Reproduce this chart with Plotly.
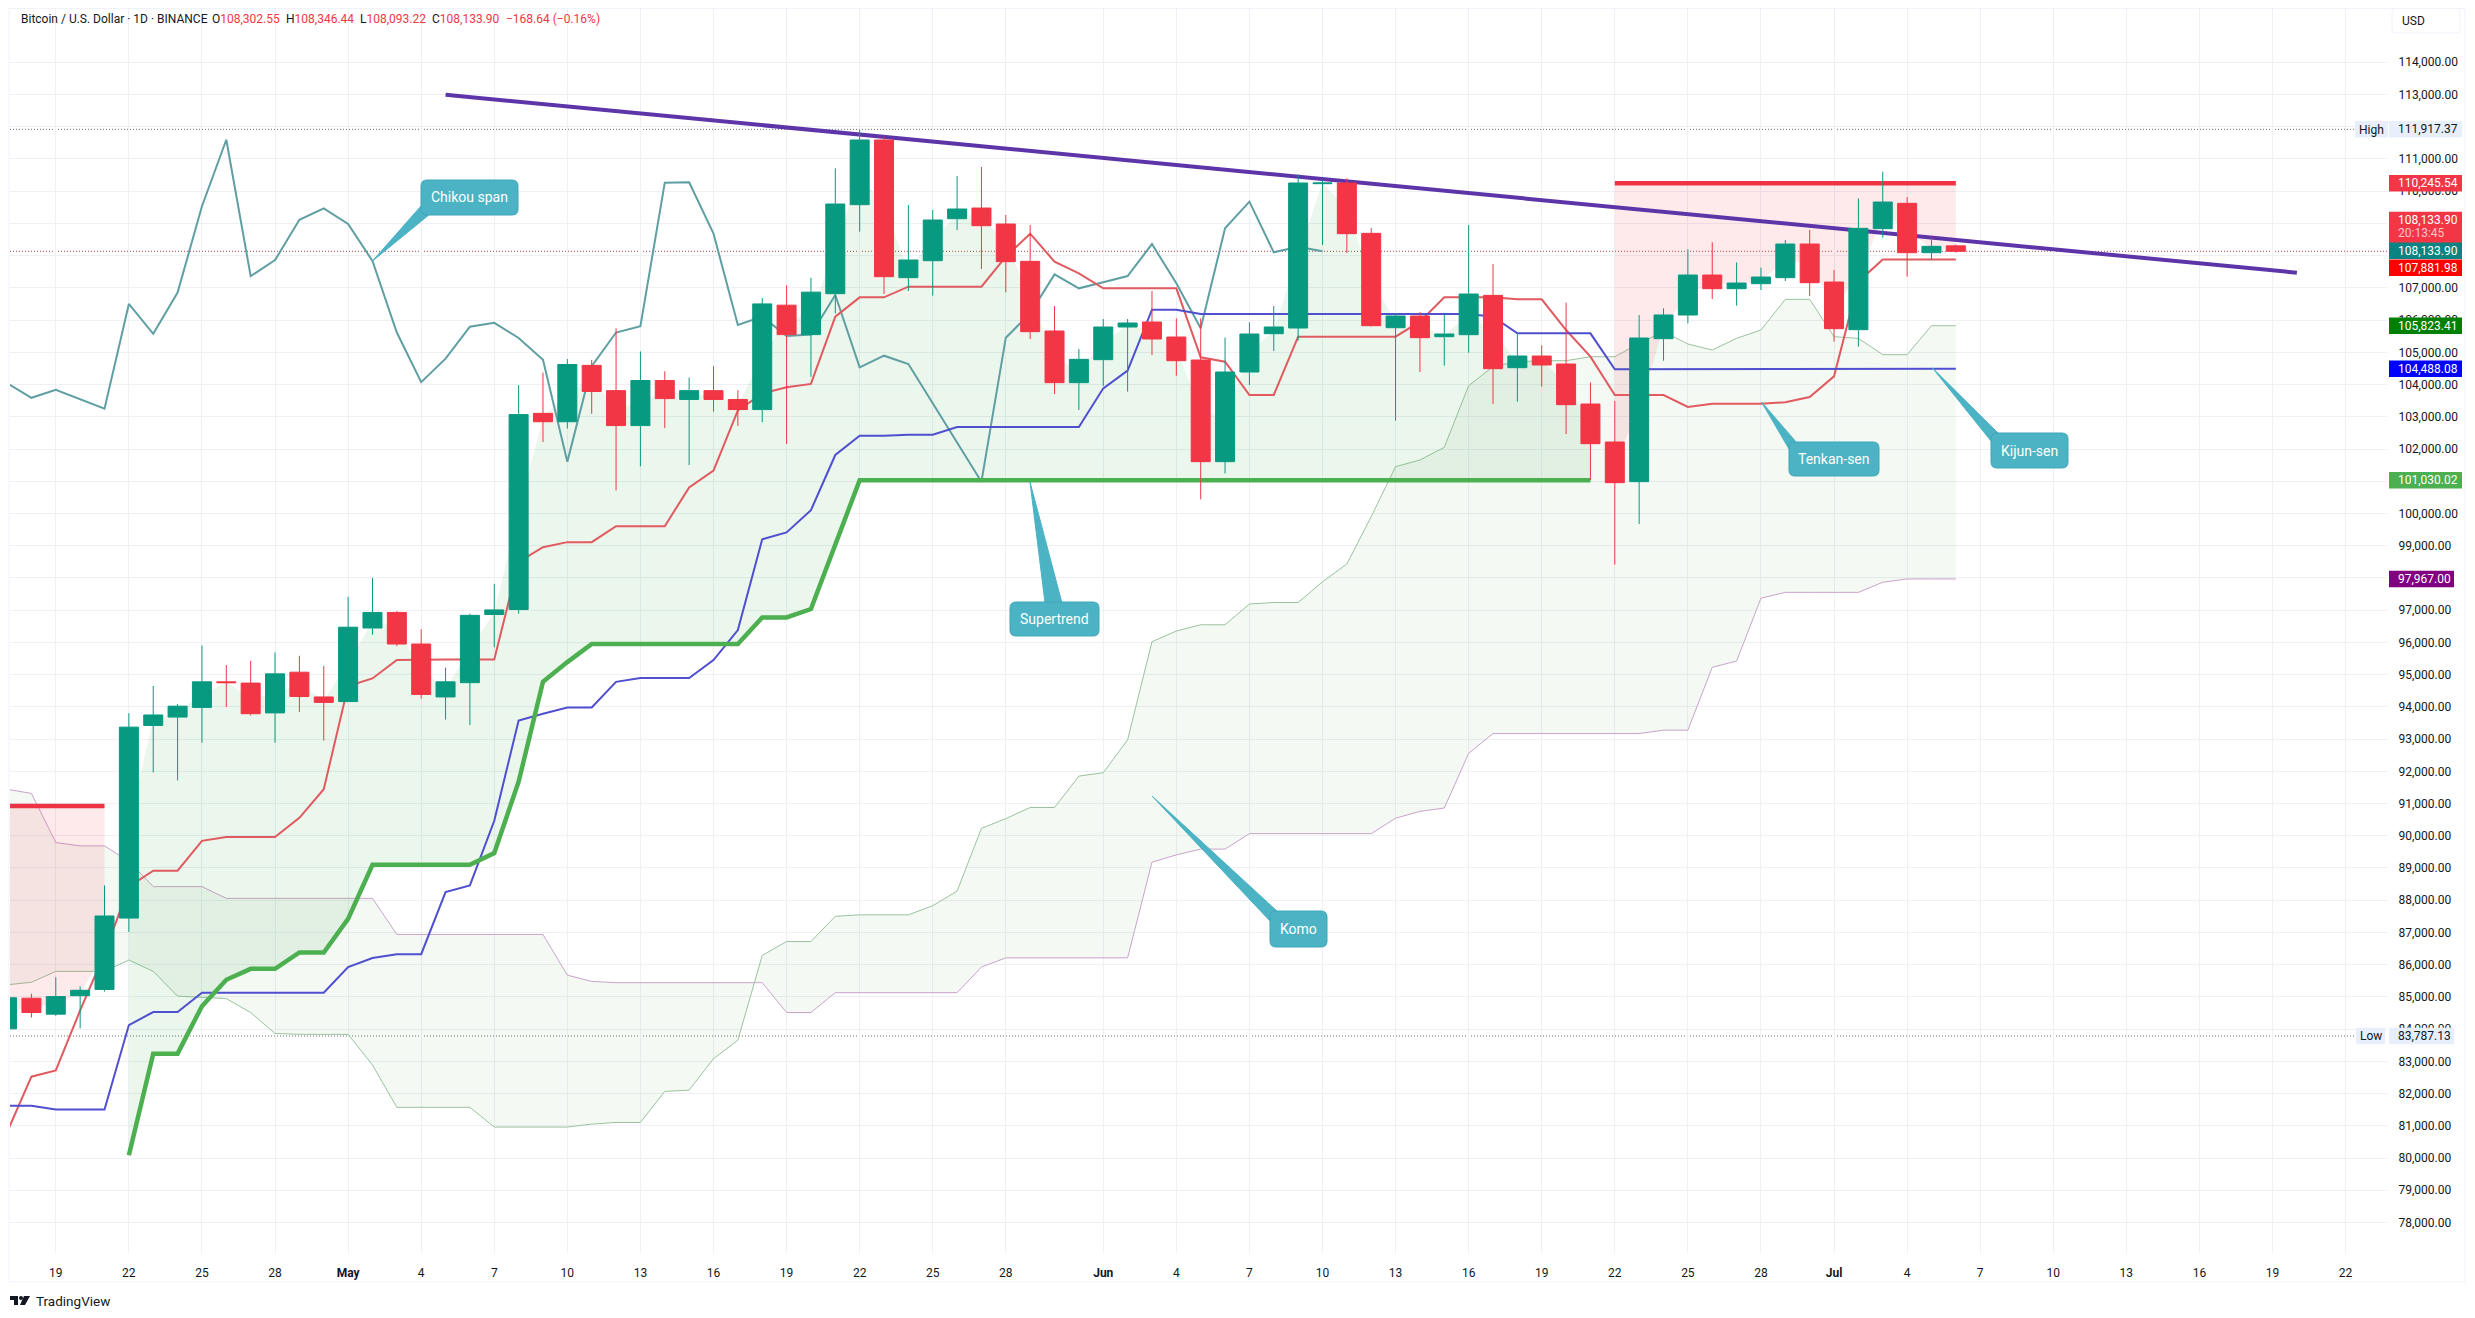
import pandas as pd
import plotly.graph_objects as go

# daily candles, 17 Apr - 6 Jul 2025
dates = pd.date_range("2025-04-17", "2025-07-06", freq="D")

opens = [84008, 84959, 84464, 85037, 85232, 87446, 93422, 93682, 93982, 94776, 94737, 93812, 95075, 94307,
         94164, 96446, 96929, 95949, 94307, 94750, 96864, 97020, 103106, 102845, 104595, 103811, 102727, 104125, 103537, 103811,
         103537, 103224, 106463, 105549, 106819, 109581, 111587, 107316, 107843, 109146, 109477, 108981, 107823, 105661, 104058,
         104772, 105785, 105940, 105475, 104761, 101607, 104389, 105578, 105754, 110232, 110253, 108691, 105764, 106126, 105485,
         105547, 106767, 104523, 104885, 104637, 103396, 102217, 100987, 105423, 106158, 107398, 106974, 107129, 107316, 108360,
         107181, 105702, 108836, 109622, 108091, 108302.55]
highs = [85100, 85100, 85610, 85324, 88461, 93800, 94646, 94086, 95900, 95297, 95427, 95688, 95584, 95271,
         97412, 98000, 96968, 96407, 95219, 96890, 97817, 103981, 104373, 104791, 104765, 105744, 105026, 104412, 104216, 104569,
         103824, 106685, 107076, 107312, 110708, 111917.37, 111690, 109570, 109415, 110470, 110749, 109260, 108950, 106437, 105102,
         106033, 106033, 106902, 106054, 106054, 105454, 105930, 106437, 110522, 110346, 110398, 108857, 106209, 106250, 106178,
         108950, 107740, 105589, 105216, 106540, 104068, 103489, 106158, 106364, 108195, 108412, 107792, 107626, 108484, 108795,
         107553, 109777, 110604, 109818, 108557, 108346.44]
lows = [83900, 84360, 84412, 84022, 85167, 87016, 91964, 91716, 92888, 93995, 93734, 92888, 93838, 92953,
        94150, 96237, 95884, 94255, 93604, 93435, 95845, 96890, 102218, 102636, 103093, 100716, 101460, 102649, 101500, 103159,
        102715, 102832, 102153, 104242, 106209, 108743, 106809, 106902, 106757, 108795, 107585, 106861, 105413, 103706, 103210,
        103955, 103779, 104916, 104275, 100438, 101245, 103986, 105040, 105361, 108329, 108081, 105800, 102879, 104389, 104585,
        104989, 103396, 103468, 103934, 102465, 101038, 98411, 99673, 104740, 105899, 106654, 106447, 106933, 107212, 106747,
        105330, 105175, 108557, 107347, 107864, 108093.22]
closes = [84972, 84516, 85011, 85206, 87511, 93370, 93747, 94021, 94776, 94750, 93786, 95023, 94320, 94138,
          96471, 96929, 95949, 94385, 94776, 96838, 97007, 103067, 102845, 104621, 103785, 102727, 104125, 103563, 103811, 103537,
          103224, 106502, 105549, 106867, 109601, 111587, 107347, 107864, 109105, 109446, 108929, 107812, 105640, 104058, 104782,
          105785, 105909, 105413, 104740, 101607, 104389, 105568, 105785, 110253, 110253, 108681, 105826, 106126, 105454, 105568,
          106809, 104492, 104885, 104606, 103375, 102165, 100955, 105444, 106158, 107398, 106974, 107150, 107336, 108360, 107160,
          105733, 108846, 109663, 108091, 108288, 108133.90]

tenkan = [80806, 82524, 82720, 84581, 86339, 88422, 88917, 88917, 89841, 89959, 89959, 89959, 90557, 91443,
          94646, 94880, 95453, 95470, 95470, 95470, 95470, 98496, 98953, 99110, 99110, 99606, 99606, 99606, 100807, 101330,
          103197, 103720, 103916, 104020, 106106, 106705, 106705, 107037, 107037, 107037, 107037, 107967, 108681, 107812, 107450,
          106985, 106985, 106985, 106985, 104844, 104709, 103675, 103675, 105485, 105485, 105485, 105485, 105485, 105951, 106705,
          106705, 106705, 106643, 106643, 105692, 104864, 103675, 103675, 103675, 103303, 103407, 103407, 103407, 103448, 103613,
          104254, 107192, 107881.98, 107881.98, 107881.98, 107881.98]
kijun = [81626, 81626, 81509, 81509, 81509, 84126, 84529, 84529, 85128, 85128, 85128, 85128, 85128, 85128,
         85923, 86209, 86326, 86326, 88253, 88461, 90466, 93578, 93786, 93982, 93982, 94776, 94893, 94893, 94893, 95453,
         96380, 99201, 99410, 100102, 101814, 102414, 102414, 102445, 102445, 102683, 102683, 102683, 102683, 102683, 102683,
         103882, 104430, 106323, 106323] + [106188] * 12 + [106106, 105589, 105589, 105589, 105589] + [104472] * 9 + [
         104472, 104472, 104488.08, 104488.08, 104488.08, 104488.08]
span_a = [85376, 85454, 85792, 85792, 85792, 86144, 85792, 85024, 84985, 84946, 84516, 83865, 83839, 83839,
          83839, 82889, 81574, 81574, 81574, 81574, 80962, 80962, 80962, 80962, 81053, 81105, 81105, 82068, 82108, 83084,
          83657, 86287, 86717, 86717, 87501, 87546, 87546, 87546, 87831, 88281, 90231, 90531, 90876, 90876, 91851,
          91956, 92976, 96021, 96351, 96546, 96546, 97191, 97236, 97236, 97881, 98432, 99900, 101452, 101659, 102052,
          103965, 104555, 104710, 104740, 104740, 104864, 104864, 105278, 105640, 105258, 105071, 105433, 105692, 106643, 106643,
          105485, 105433, 104927, 104927, 105826, 105823.41]
span_b = [91443, 91313, 89789, 89685, 89685, 89203, 88422, 88422, 88422, 88057, 88057, 88057, 88057, 88057,
          88057, 88057] + [86938] * 7 + [85675, 85480] + [85441] * 7 + [84516, 84516] + [85131] * 6 + [85926] + [86211] * 4 + [
          86211, 86211, 89181, 89406, 89586, 89586] + [90066] * 6 + [90546, 90756, 90861, 92556] + [93171] * 7 + [
          93276, 93276, 95226, 95421, 97371, 97551, 97551, 97551, 97551, 97866, 97967, 97967, 97967]
chikou = [104047, 103589, 103838, 103550, 103250, 106502, 105574, 106854, 109532, 111595, 107364, 107860, 109114, 109466,
          108983, 107834, 105614, 104073, 104804, 105796, 105914, 105444, 104765, 101604, 104569, 105614, 105809, 110263, 110276, 108683,
          105849, 106110, 105509, 105549, 106778, 104534, 104895, 104637, 103417, 102175, 100986, 105454, 106209, 107419, 106985,
          107171, 107367, 108360, 107140, 105744, 108846, 109674, 108102, 108277, 108133.90] + [None] * 26
super_up = [None] * 5 + [80089, 83240, 83240, 84712, 85532, 85870, 85870, 86378, 86378,
            87420, 89099, 89099, 89099, 89099, 89099, 89464, 91677, 94776, 95388] + [95949] * 7 + [
            96772, 96772, 97033, 99000] + [101030.02] * 31 + [None] * 15
super_down = [90922] * 5 + [None] * 61 + [110245.54] * 15

trend_dates = ["2025-05-05", "2025-07-20"]
trend_prices = [112993, 107470]

price_ticks = list(range(78000, 115000, 1000))
# 108,000 sits fully behind the last-price tags on the chart
price_labels = ["" if p == 108000 else f"{p:,.2f}" for p in price_ticks]
time_ticks = ["2025-04-19", "2025-04-22", "2025-04-25", "2025-04-28", "2025-05-01", "2025-05-04", "2025-05-07",
              "2025-05-10", "2025-05-13", "2025-05-16", "2025-05-19", "2025-05-22", "2025-05-25", "2025-05-28",
              "2025-06-01", "2025-06-04", "2025-06-07", "2025-06-10", "2025-06-13", "2025-06-16", "2025-06-19",
              "2025-06-22", "2025-06-25", "2025-06-28", "2025-07-01", "2025-07-04", "2025-07-07", "2025-07-10",
              "2025-07-13", "2025-07-16", "2025-07-19", "2025-07-22"]
time_labels = ["19", "22", "25", "28", "<b>May</b>", "4", "7", "10", "13", "16", "19", "22", "25", "28", "<b>Jun</b>",
               "4", "7", "10", "13", "16", "19", "22", "25", "28", "<b>Jul</b>", "4", "7", "10", "13", "16", "19", "22"]

# all positions below are page pixels; the page body adds an 8px margin around the figure
BODY = 8
W, H = 2459, 1302
LEFT, RIGHT, TOP, BOTTOM = 10, 2387, 8, 1253
Y_RANGE = [77054, 115683]
FONT = "Roboto"
DARK = "#131722"
UP = "#089981"
DOWN = "#f23645"
CALLOUT = "#4bb3c4"
TAG_PALE = "#e6effb"


def px(x):
    return (x - LEFT) / (RIGHT - LEFT)


def py(y):
    return (BOTTOM - y) / (BOTTOM - TOP)


def segments(vals):
    # index ranges where a series with gaps has values
    out, start = [], None
    for i, v in enumerate(list(vals) + [None]):
        if v is not None and start is None:
            start = i
        if v is None and start is not None:
            out.append((start, i))
            start = None
    return out


fig = go.Figure()

# cloud
fig.add_trace(go.Scatter(x=dates, y=span_b, mode="lines", line=dict(color="#c9a3c9", width=1)))
fig.add_trace(go.Scatter(x=dates, y=span_a, mode="lines", line=dict(color="#9cc29f", width=1),
                         fill="tonexty", fillcolor="rgba(67,160,71,0.06)"))

# supertrend fill runs from the line to the middle of the candle body
body_mid = [(o + c) / 2 for o, c in zip(opens, closes)]
for vals, color in [(super_up, "rgba(76,175,80,0.11)"), (super_down, "rgba(242,54,69,0.11)")]:
    for a, b in segments(vals):
        fig.add_trace(go.Scatter(x=dates[a:b], y=body_mid[a:b], mode="lines", line=dict(width=0)))
        fig.add_trace(go.Scatter(x=dates[a:b], y=vals[a:b], mode="lines", line=dict(width=0),
                                 fill="tonexty", fillcolor=color))

fig.add_trace(go.Scatter(x=trend_dates, y=trend_prices, mode="lines", line=dict(color="#5e35a8", width=4)))
fig.add_trace(go.Scatter(x=dates, y=chikou, mode="lines", line=dict(color="#5f9fa3", width=2)))
fig.add_trace(go.Scatter(x=dates, y=tenkan, mode="lines", line=dict(color="#e05a5f", width=2)))
fig.add_trace(go.Scatter(x=dates, y=kijun, mode="lines", line=dict(color="#4f4fcf", width=2)))
fig.add_trace(go.Scatter(x=dates, y=super_up, mode="lines", line=dict(color="#4caf50", width=4.5)))
fig.add_trace(go.Scatter(x=dates, y=super_down, mode="lines", line=dict(color="#ee3344", width=4.5)))

# candles on an overlaid axis so they are painted over the lines
fig.add_trace(go.Candlestick(
    x=dates, open=opens, high=highs, low=lows, close=closes, whiskerwidth=0, yaxis="y2",
    increasing=dict(line=dict(color=UP, width=1), fillcolor=UP),
    decreasing=dict(line=dict(color=DOWN, width=1), fillcolor=DOWN),
))

# dotted price lines
for price, end, color in [(111917.37, 2354, "#6a6d78"), (83787.13, 2354, "#6a6d78"), (108133.90, RIGHT, "#a8474f")]:
    fig.add_shape(type="line", xref="paper", yref="y", x0=0, x1=px(end), y0=price, y1=price, layer="below",
                  line=dict(color=color, width=1, dash="1px,2px"))

annotations = []


def text_at(x, y, text, size=12, color=DARK, anchor="left"):
    annotations.append(dict(xref="paper", yref="paper", x=px(x), y=py(y), text=text, showarrow=False, xanchor=anchor,
                            yanchor="middle", font=dict(family=FONT, size=size, color=color)))


def tag_box(price, x0, x1, bg, height=16.5):
    fig.add_shape(type="rect", xref="paper", yref="y", ysizemode="pixel", yanchor=price, x0=px(x0), x1=px(x1),
                  y0=-height / 2, y1=height / 2, fillcolor=bg, line=dict(width=0), layer="above")


def price_tag(price, text, bg, color="#ffffff", x1=2462):
    tag_box(price, 2389, x1, bg)
    annotations.append(dict(xref="paper", yref="y", x=px(2396), y=price, text=text, showarrow=False, xanchor="left",
                            yanchor="middle", font=dict(family=FONT, size=12, color=color)))


def rounded_path(x0, y0, x1, y1, r):
    return (f"M {px(x0 + r)} {py(y0)} L {px(x1 - r)} {py(y0)} Q {px(x1)} {py(y0)} {px(x1)} {py(y0 + r)} "
            f"L {px(x1)} {py(y1 - r)} Q {px(x1)} {py(y1)} {px(x1 - r)} {py(y1)} L {px(x0 + r)} {py(y1)} "
            f"Q {px(x0)} {py(y1)} {px(x0)} {py(y1 - r)} L {px(x0)} {py(y0 + r)} Q {px(x0)} {py(y0)} {px(x0 + r)} {py(y0)} Z")


def callout(text, box, tail):
    x0, y0, x1, y1 = box
    tail_path = "M " + " L ".join(f"{px(x)} {py(y)}" for x, y in tail) + " Z"
    fig.add_shape(type="path", xref="paper", yref="paper", path=tail_path, fillcolor=CALLOUT, line=dict(color=CALLOUT, width=1))
    fig.add_shape(type="path", xref="paper", yref="paper", path=rounded_path(x0, y0, x1, y1, 6), fillcolor=CALLOUT,
                  line=dict(color="#3fa6b8", width=1))
    text_at((x0 + x1) / 2, (y0 + y1) / 2, text, size=14, color="#ffffff", anchor="center")


callout("Chikou span", (421, 180, 518, 215), [(372.5, 261), (421, 206), (430, 214)])
callout("Supertrend", (1010, 602, 1099, 636), [(1030, 482), (1045, 603), (1062, 603)])
callout("Komo", (1270, 911, 1327, 947), [(1152, 796), (1270, 921), (1278, 912)])
callout("Tenkan-sen", (1789, 442, 1879, 476), [(1761.5, 402), (1789, 449), (1797, 443)])
callout("Kijun-sen", (1991, 433, 2068, 468), [(1932.5, 368), (1991, 441), (1999, 434)])

# header
text_at(18.5, 19, "Bitcoin / U.S. Dollar · 1D · BINANCE")
for x, label, value in [(210, "O", "108,302.55"), (284, "H", "108,346.44"), (358, "L", "108,093.22"), (429.5, "C", "108,133.90")]:
    text_at(x, 19, f"{label}<span style='color:{DOWN}'>{value}</span>")
text_at(503.5, 19, "−168.64 (−0.16%)", color=DOWN)

# tags on the price scale; the last three are pushed apart as on the chart
price_tag(111917.37, "111,917.37", TAG_PALE, DARK)
price_tag(83787.13, "83,787.13", TAG_PALE, DARK, x1=2454)
price_tag(110245.54, "110,245.54", DOWN)
price_tag(105823.41, "105,823.41", "#008000")
price_tag(104488.08, "104,488.08", "#0000ff")
price_tag(101030.02, "101,030.02", "#4caf50")
price_tag(97967.00, "97,967.00", "#800080", x1=2454)
tag_box(108873, 2389, 2462, DOWN, height=31.5)
text_at(2396, 219.5, "108,133.90", color="#ffffff")
text_at(2396, 233.5, "20:13:45", color="#fbc4c9")
price_tag(108152, "108,133.90", "#0b8383")
price_tag(107627, "107,881.98", "#ff0000")
tag_box(111917.37, 2355, 2388, TAG_PALE)
tag_box(83787.13, 2356, 2385, TAG_PALE)
text_at(2371.5, 129.5, "High", anchor="center")
text_at(2370.5, 1036, "Low", anchor="center")

# USD button and frame
fig.add_shape(type="path", xref="paper", yref="paper", path=rounded_path(2392, 8.5, 2460, 33, 4), fillcolor="#ffffff",
              line=dict(color="#f0f3fa", width=1), layer="above")
text_at(2400, 21, "USD")
fig.add_shape(type="rect", xref="paper", yref="paper", x0=px(9), x1=px(2465), y0=py(8.5), y1=py(1282),
              line=dict(color="#f0f3fa", width=1), layer="below")

# TradingView mark
for path in [
    f"M {px(10)} {py(1296)} L {px(18)} {py(1296)} L {px(18)} {py(1305)} L {px(14)} {py(1305)} L {px(14)} {py(1300)} L {px(10)} {py(1300)} Z",
    f"M {px(24)} {py(1296)} L {px(30)} {py(1296)} L {px(25)} {py(1305)} L {px(20)} {py(1305)} Z",
]:
    fig.add_shape(type="path", xref="paper", yref="paper", path=path, fillcolor=DARK, line=dict(width=0))
fig.add_shape(type="circle", xref="paper", yref="paper", x0=px(19), x1=px(23), y0=py(1300), y1=py(1296), fillcolor=DARK, line=dict(width=0))
text_at(34, 1301, "TradingView", size=13.5)

fig.update_layout(
    width=W, height=H, showlegend=False, paper_bgcolor="#ffffff", plot_bgcolor="#ffffff", boxgap=0.22, boxgroupgap=0,
    margin=dict(l=LEFT - BODY, r=W - (RIGHT - BODY), t=TOP - BODY, b=H - (BOTTOM - BODY), autoexpand=False),
    font=dict(family=FONT, size=12, color=DARK), annotations=annotations,
    xaxis=dict(type="date", range=["2025-04-17 02:53", "2025-07-23 16:48"], rangeslider=dict(visible=False),
               tickmode="array", tickvals=time_ticks, ticktext=time_labels, tickangle=0, gridcolor="#eef0f4", gridwidth=1,
               showline=False, zeroline=False, ticks="outside", ticklen=9, tickcolor="rgba(0,0,0,0)",
               tickfont=dict(family=FONT, size=12, color=DARK)),
    yaxis=dict(side="right", range=Y_RANGE, tickmode="array", tickvals=price_ticks, ticktext=price_labels,
               gridcolor="#eef0f4", gridwidth=1, showline=False, zeroline=False, ticks="outside", ticklen=8,
               tickcolor="rgba(0,0,0,0)", tickfont=dict(family=FONT, size=12, color=DARK)),
    yaxis2=dict(overlaying="y", side="right", range=Y_RANGE, visible=False, showgrid=False),
)

fig.write_html("out.html")
